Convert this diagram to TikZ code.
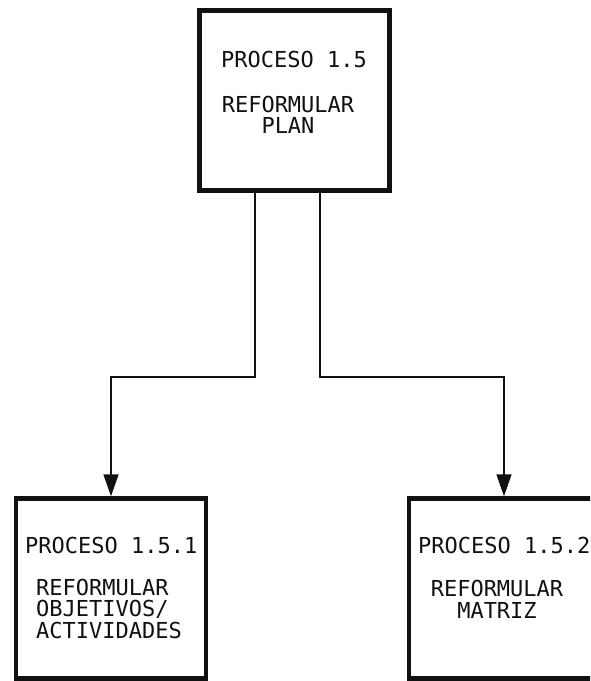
\documentclass[tikz,border=0pt]{standalone}
\usepackage{fontspec}
\setmonofont{DejaVu Sans Mono}
\usetikzlibrary{positioning, arrows.meta}
\definecolor{color_text}{HTML}{111111}
\tikzset{
  process_box/.style={draw=color_text, line width=4.5pt, minimum width=190pt, minimum height=180pt, inner sep=0pt, fill=white},
  process_title/.style={font=\ttfamily\fontsize{22}{18}\selectfont, text=color_text, inner sep=0pt, anchor=base west},
  process_text/.style={font=\ttfamily\fontsize{22}{21.5}\selectfont, text=color_text, inner sep=0pt},
  flow_arrow/.style={-{Triangle[length=22pt, width=15pt]}, draw=color_text, line width=1.7pt},
}
\begin{document}
\begin{tikzpicture}[x=1pt, y=-1pt]
    \useasboundingbox (0,0) rectangle (590,681);
    \clip (0,0) rectangle (590,681);
    % process boxes
    \node[process_box] (plan) at (294.5,100.5) {};
    \node[process_box] (objetivos) at (111,588.5) {};
    \node[process_box] (matriz) at (504,588.5) {};
    % texts (base of a multi-line node is its last line)
    \node[process_title] (plan_title) at (221,67) {PROCESO 1.5};
    \node[process_text, align=center, anchor=base] (plan_text) at (288,133.5) {REFORMULAR\\PLAN};
    \node[process_title] (objetivos_title) at (25,553) {PROCESO 1.5.1};
    \node[process_text, align=left, anchor=base west] (objetivos_text) at (36,638) {REFORMULAR\\OBJETIVOS/\\ACTIVIDADES};
    \node[process_title] (matriz_title) at (418,553) {PROCESO 1.5.2};
    \node[process_text, align=center, anchor=base] (matriz_text) at (497,618) {REFORMULAR\\MATRIZ};
    % connectors
    \coordinate (split) at (0,377);
    \draw[flow_arrow] ([xshift=-39.5pt]plan.south) |- (split -| objetivos.north) -- (objetivos.north);
    \draw[flow_arrow] ([xshift=25.5pt]plan.south) |- (split -| matriz.north) -- (matriz.north);
\end{tikzpicture}
\end{document}
